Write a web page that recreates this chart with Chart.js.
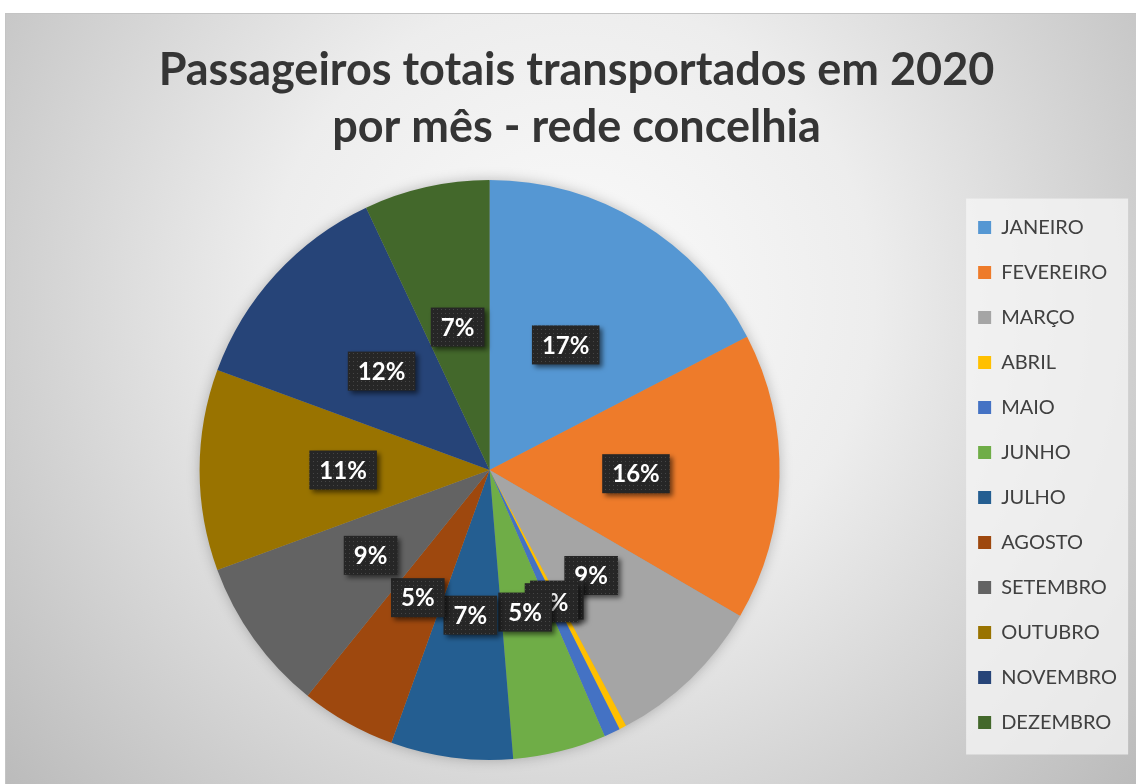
<!DOCTYPE html>
<html>
<head>
<meta charset="utf-8">
<script src="https://cdn.jsdelivr.net/npm/chart.js@4.4.0/dist/chart.umd.min.js"></script>
<style>
  html, body { margin: 0; padding: 0; background: #ffffff; }
  canvas { display: block; }
</style>
</head>
<body>
<canvas id="chart" width="1136" height="784"></canvas>
<script>

// months and their share of the year's passengers
const months = ['JANEIRO', 'FEVEREIRO', 'MARÇO', 'ABRIL', 'MAIO', 'JUNHO',
                'JULHO', 'AGOSTO', 'SETEMBRO', 'OUTUBRO', 'NOVEMBRO', 'DEZEMBRO'];
const passengers = [17.4, 16.0, 8.8, 0.4, 0.9, 5.2, 6.8, 5.3, 8.6, 11.2, 12.4, 7.0];
const sliceColors = ['#5597d3', '#ee7b2a', '#a5a5a5', '#ffc000', '#4472c4', '#6fad47',
                     '#245e91', '#9e480e', '#636363', '#997300', '#264478', '#43682b'];
const titleLines = ['Passageiros totais transportados em 2020', 'por mês - rede concelhia'];


// little dotted fill used behind the percentage labels
function makeDotPattern(ctx) {
  let c = document.createElement('canvas');
  c.width = 4;
  c.height = 4;
  let p = c.getContext('2d');
  p.fillStyle = '#262626';
  p.fillRect(0, 0, 4, 4);
  p.fillStyle = '#454545';
  p.fillRect(1, 1, 1, 1);
  return ctx.createPattern(c, 'repeat');
}

const backdrop = {
  id: 'backdrop',
  beforeDraw(chart) {
    const ctx = chart.ctx;
    ctx.save();
    ctx.fillStyle = '#ffffff';
    ctx.fillRect(0, 0, chart.width, chart.height);

    let g = ctx.createRadialGradient(570, 300, 0, 570, 300, 760);
    g.addColorStop(0, '#fbfbfb');
    g.addColorStop(0.4, '#ededed');
    g.addColorStop(1, '#b9b9b9');
    ctx.fillStyle = g;
    ctx.fillRect(5, 13, chart.width - 5, chart.height - 13);
    ctx.strokeStyle = '#c4c4c4';
    ctx.lineWidth = 1;
    ctx.strokeRect(5.5, 13.5, chart.width, chart.height);

    // pale box behind the legend
    const hb = chart.legend.legendHitBoxes;
    if (hb && hb.length) {
      const first = hb[0];
      const last = hb[hb.length - 1];
      const x = first.left - 12;
      const y = first.top - 19;
      ctx.fillStyle = 'rgba(246,246,246,0.75)';
      ctx.fillRect(x, y, 162, last.top + last.height + 22 - y);
    }
    ctx.restore();
  },
  beforeDatasetsDraw(chart) {
    // soft halo under the pie
    const arc = chart.getDatasetMeta(0).data[0];
    if (!arc) return;
    const ctx = chart.ctx;
    ctx.save();
    ctx.shadowColor = 'rgba(0,0,0,0.28)';
    ctx.shadowBlur = 14;
    ctx.fillStyle = '#9a9a9a';
    ctx.beginPath();
    ctx.arc(arc.x, arc.y, arc.outerRadius - 1, 0, Math.PI * 2);
    ctx.fill();
    ctx.restore();
  }
};

const percentLabels = {
  id: 'percentLabels',
  afterDatasetsDraw(chart) {
    const ctx = chart.ctx;
    const meta = chart.getDatasetMeta(0);
    const values = chart.data.datasets[0].data;
    const total = values.reduce((a, b) => a + b, 0);
    const pattern = makeDotPattern(ctx);

    ctx.save();
    ctx.font = 'bold 24px Lato';
    ctx.textAlign = 'center';
    ctx.textBaseline = 'middle';

    meta.data.forEach((arc, i) => {
      const mid = (arc.startAngle + arc.endAngle) / 2;
      const r = arc.outerRadius * 0.505;
      const x = arc.x + Math.cos(mid) * r;
      const y = arc.y + Math.sin(mid) * r;
      const text = Math.round(values[i] / total * 100) + '%';
      const w = ctx.measureText(text).width + 20;
      const h = 39;

      ctx.save();
      ctx.shadowColor = 'rgba(0,0,0,0.55)';
      ctx.shadowBlur = 5;
      ctx.shadowOffsetX = 3;
      ctx.shadowOffsetY = 3;
      ctx.fillStyle = pattern;
      ctx.fillRect(x - w / 2, y - h / 2, w, h);
      ctx.restore();

      ctx.fillStyle = '#ffffff';
      ctx.fillText(text, x, y + 1);
    });
    ctx.restore();
  }
};


new Chart(document.getElementById('chart'), {
  type: 'pie',
  data: {
    labels: months,
    datasets: [{
      data: passengers,
      backgroundColor: sliceColors,
      borderWidth: 0
    }]
  },
  options: {
    responsive: false,
    animation: false,
    devicePixelRatio: 1,
    layout: {
      padding: { top: 20, left: 26, right: 9, bottom: 24 }
    },
    plugins: {
      title: {
        display: true,
        text: titleLines,
        color: '#353535',
        font: { family: 'Lato', size: 45, weight: 'bold', lineHeight: 1.267 },
        padding: { top: 21.5, bottom: 24.5 }
      },
      legend: {
        position: 'right',
        fullSize: false,
        title: {
          display: true,
          text: ' ',
          font: { size: 1, lineHeight: 1 },
          padding: { top: 0, bottom: 9 }
        },
        labels: {
          boxWidth: 13,
          boxHeight: 13,
          padding: 25,
          color: '#404040',
          font: { family: 'Lato', size: 20 }
        }
      },
      tooltip: { enabled: false }
    }
  },
  plugins: [backdrop, percentLabels]
});
</script>
</body>
</html>
